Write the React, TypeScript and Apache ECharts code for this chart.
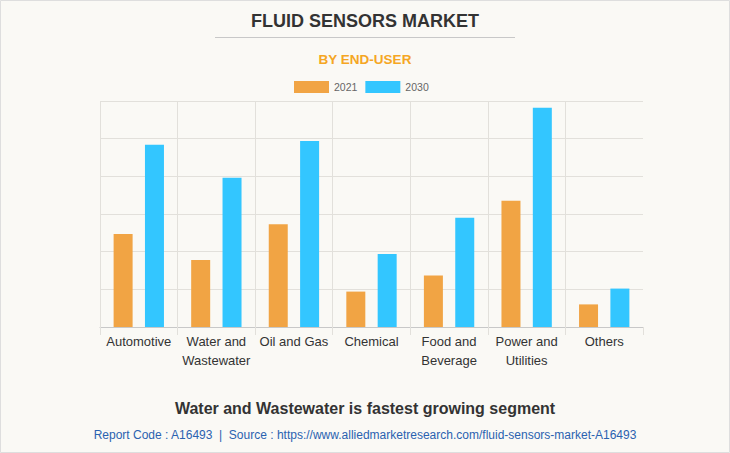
import React, { useEffect, useRef } from "react";
import * as echarts from "echarts";

const categories = [
  "Automotive",
  "Water and\nWastewater",
  "Oil and Gas",
  "Chemical",
  "Food and\nBeverage",
  "Power and\nUtilities",
  "Others",
];
const values2021 = [2.47, 1.78, 2.73, 0.94, 1.37, 3.35, 0.6];
const values2030 = [4.84, 3.96, 4.94, 1.94, 2.9, 5.82, 1.02];
const seriesNames = ["2021", "2030"];

const FONT = "'Liberation Sans', Arial, Helvetica, sans-serif";

export default function App() {
  const ref = useRef<HTMLDivElement>(null);

  useEffect(() => {
    if (!ref.current) return;
    const chart = echarts.init(ref.current, null, { renderer: "svg" });
    chart.setOption({
      animation: false,
      backgroundColor: "#faf9f5",
      textStyle: { fontFamily: FONT },
      graphic: [
        {
          type: "rect",
          shape: { x: 0.5, y: 0.5, width: 729, height: 452 },
          style: { fill: "none", stroke: "#dedede", lineWidth: 1 },
          silent: true,
          z: 100,
        },
        {
          type: "text",
          x: 365,
          y: 21,
          style: {
            text: "FLUID SENSORS MARKET",
            fill: "#333333",
            font: `bold 18px ${FONT}`,
            textAlign: "center",
            textVerticalAlign: "middle",
          },
        },
        {
          type: "line",
          shape: { x1: 215, y1: 37.5, x2: 515, y2: 37.5 },
          style: { stroke: "#c8c8c8", lineWidth: 1 },
        },
        {
          type: "text",
          x: 365,
          y: 59,
          style: {
            text: "BY END-USER",
            fill: "#f5a623",
            font: `bold 13.5px ${FONT}`,
            textAlign: "center",
            textVerticalAlign: "middle",
          },
        },
        {
          type: "text",
          x: 365,
          y: 408,
          style: {
            text: "Water and Wastewater is fastest growing segment",
            fill: "#333333",
            font: `bold 16px ${FONT}`,
            textAlign: "center",
            textVerticalAlign: "middle",
          },
        },
        {
          type: "text",
          x: 365,
          y: 435,
          style: {
            text:
              "Report Code : A16493  |  Source : https://www.alliedmarketresearch.com/fluid-sensors-market-A16493",
            fill: "#2a62b0",
            font: `12px ${FONT}`,
            textAlign: "center",
            textVerticalAlign: "middle",
          },
        },
      ],
      legend: {
        top: 81,
        left: 294,
        padding: 0,
        itemWidth: 35,
        itemHeight: 12,
        itemGap: 8,
        icon: "rect",
        textStyle: { color: "#666666", fontSize: 10.5, fontFamily: FONT },
        data: seriesNames,
      },
      grid: { left: 100, right: 87, top: 101, bottom: 126, containLabel: false },
      xAxis: {
        type: "category",
        data: categories,
        axisLine: { show: true, lineStyle: { color: "#c8c8c8", width: 1 } },
        axisTick: { show: true, length: 8, lineStyle: { color: "#e2e0db" } },
        splitLine: {
          show: true,
          showMaxLine: false,
          lineStyle: { color: "#e2e0db", width: 1 },
        },
        axisLabel: {
          color: "#333333",
          fontSize: 13,
          fontFamily: FONT,
          lineHeight: 19,
          margin: 5,
          interval: 0,
        },
      },
      yAxis: {
        type: "value",
        min: 0,
        max: 6,
        interval: 1,
        axisLabel: { show: false },
        axisLine: { show: false },
        axisTick: { show: false },
        splitLine: { show: true, lineStyle: { color: "#e2e0db", width: 1 } },
      },
      series: [
        {
          name: seriesNames[0],
          type: "bar",
          data: values2021,
          barWidth: 19,
          barGap: "65%",
          itemStyle: { color: "#f1a444" },
        },
        {
          name: seriesNames[1],
          type: "bar",
          data: values2030,
          barWidth: 19,
          barGap: "65%",
          itemStyle: { color: "#33c6ff" },
        },
      ],
    });
    return () => chart.dispose();
  }, []);

  return (
    <div
      ref={ref}
      style={{ position: "fixed", left: 0, top: 0, width: 730, height: 453 }}
    />
  );
}
